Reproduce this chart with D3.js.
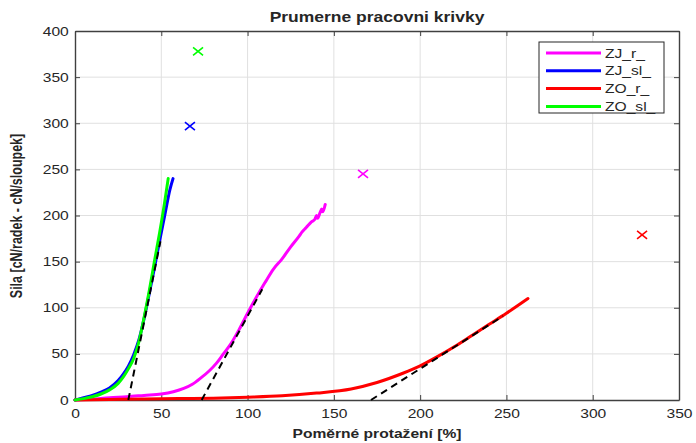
<!DOCTYPE html>
<html>
<head>
  <meta charset="utf-8">
  <title>Prumerne pracovni krivky</title>
  <script src="https://cdn.jsdelivr.net/npm/d3@7"></script>
  <style>
    body { margin: 0; background: #fff; }
    text { font-family: "Liberation Sans", Arial, Helvetica, sans-serif; fill: #262626; }
  </style>
</head>
<body>
<script>
// --- data ---
var xTicks = [0, 50, 100, 150, 200, 250, 300, 350];
var yTicks = [0, 50, 100, 150, 200, 250, 300, 350, 400];

var seriesNames = ["ZJ_r_", "ZJ_sl_", "ZO_r_", "ZO_sl_"];
var seriesColors = ["#ff00ff", "#0000ff", "#ff0000", "#00ff00"];

var zjR_x = [0, 10, 20, 30, 40, 50, 57, 63, 68, 73, 78, 82, 86, 90, 95, 100, 105, 110, 115, 120, 125, 130, 131.5, 134, 137, 139, 140, 140.6, 142, 143, 143.6, 145];
var zjR_y = [0, 1, 2.5, 3.5, 5, 6.5, 9, 12.5, 17, 24, 32, 40, 50, 60, 76, 94, 111, 127, 142, 153, 166, 178, 182, 187, 193, 196, 200, 197, 203, 207, 204, 212];

var zjSl_x = [0, 5, 10, 15, 20, 25, 28, 31, 34, 37, 40, 43, 46, 49, 52, 55, 56.8];
var zjSl_y = [0, 2.5, 5, 8.5, 13, 21, 28, 37, 49, 65, 88, 115, 143, 172, 200, 228, 240];

var zoR_x = [0, 20, 40, 60, 80, 100, 120, 140, 160, 175, 190, 200, 210, 220, 230, 240, 250, 262.5];
var zoR_y = [0, 0.5, 1, 1.5, 2, 3, 4.5, 7.5, 12, 19, 29, 37, 47, 58, 70, 82, 94, 110];

var zoSl_x = [0, 5, 10, 15, 20, 25, 28, 31, 34, 37, 40, 43, 46, 49, 52, 54];
var zoSl_y = [0, 1.5, 3.5, 6.5, 11, 18, 25, 34, 45, 63, 89, 118, 150, 181, 215, 240];

// tangent lines (dashed): start and end points
var tangent_x = [[30.9, 49.5], [73.4, 108.5], [171.5, 248]];
var tangent_y = [[0, 172], [0, 120], [0, 91]];

// end markers (x)
var marker_x = [166.9, 66.6, 328.6, 71.3];
var marker_y = [245, 297, 179, 378];

// --- layout ---
var width = 696, height = 443;
var plotLeft = 75, plotRight = 679, plotTop = 31, plotBottom = 400;
var stretch = 1.25; // picture is stretched horizontally

var x = d3.scaleLinear().domain([0, 350]).range([plotLeft, plotRight]);
var y = d3.scaleLinear().domain([0, 400]).range([plotBottom, plotTop]);

var svg = d3.select("body").append("svg")
  .attr("width", width)
  .attr("height", height);

svg.append("rect").attr("width", width).attr("height", height).attr("fill", "#fff");

// grid
svg.append("g").selectAll("line").data(xTicks.slice(1, -1)).enter().append("line")
  .attr("x1", d => x(d)).attr("x2", d => x(d))
  .attr("y1", plotTop).attr("y2", plotBottom)
  .attr("stroke", "#e0e0e0").attr("stroke-width", 1);
svg.append("g").selectAll("line").data(yTicks.slice(1, -1)).enter().append("line")
  .attr("y1", d => y(d)).attr("y2", d => y(d))
  .attr("x1", plotLeft).attr("x2", plotRight)
  .attr("stroke", "#e0e0e0").attr("stroke-width", 1);

// axes (ticks inside, like matlab)
function styleAxis(g) {
  g.select(".domain").attr("stroke", "#404040").attr("stroke-width", 1.4);
  g.selectAll(".tick line").attr("stroke", "#404040").attr("stroke-width", 1);
}

var xAxis = svg.append("g")
  .attr("transform", "translate(0," + plotBottom + ")")
  .call(d3.axisBottom(x).tickValues(xTicks).tickSizeInner(-5).tickSizeOuter(0));
styleAxis(xAxis);
xAxis.selectAll("text")
  .style("font-size", "12.5px").attr("fill", "#262626")
  .attr("y", 9).attr("dy", "0.71em")
  .attr("transform", "scale(" + stretch + ",1)");

var yAxis = svg.append("g")
  .attr("transform", "translate(" + plotLeft + ",0)")
  .call(d3.axisLeft(y).tickValues(yTicks).tickSizeInner(-5).tickSizeOuter(0));
styleAxis(yAxis);
yAxis.selectAll("text")
  .style("font-size", "12.5px").attr("fill", "#262626")
  .attr("x", -5)
  .attr("transform", "scale(" + stretch + ",1)");

// top and right box with inward ticks
var xTop = svg.append("g")
  .attr("transform", "translate(0," + plotTop + ")")
  .call(d3.axisTop(x).tickValues(xTicks).tickSizeInner(-5).tickSizeOuter(0).tickFormat(""));
styleAxis(xTop);
var yRight = svg.append("g")
  .attr("transform", "translate(" + plotRight + ",0)")
  .call(d3.axisRight(y).tickValues(yTicks).tickSizeInner(-5).tickSizeOuter(0).tickFormat(""));
styleAxis(yRight);

// curves
var smooth = d3.line()
  .x(d => x(d[0]))
  .y(d => y(d[1]))
  .curve(d3.curveMonotoneX);

var seriesX = [zjR_x, zjSl_x, zoR_x, zoSl_x];
var seriesY = [zjR_y, zjSl_y, zoR_y, zoSl_y];

seriesX.forEach(function(xs, i) {
  var pts = xs.map((v, k) => [v, seriesY[i][k]]);
  svg.append("path")
    .datum(pts)
    .attr("d", smooth)
    .attr("fill", "none")
    .attr("stroke", seriesColors[i])
    .attr("stroke-width", 3)
    .attr("stroke-linejoin", "round")
    .attr("stroke-linecap", "round");
});

// tangents
tangent_x.forEach(function(xs, i) {
  svg.append("line")
    .attr("x1", x(xs[0])).attr("y1", y(tangent_y[i][0]))
    .attr("x2", x(xs[1])).attr("y2", y(tangent_y[i][1]))
    .attr("stroke", "#000")
    .attr("stroke-width", 2)
    .attr("stroke-dasharray", "7,5");
});

// markers
var ms = 5;
marker_x.forEach(function(mx, i) {
  var cx = x(mx), cy = y(marker_y[i]);
  svg.append("path")
    .attr("d", "M" + (cx - ms) + "," + (cy - ms * 0.8) + "L" + (cx + ms) + "," + (cy + ms * 0.8) +
               "M" + (cx - ms) + "," + (cy + ms * 0.8) + "L" + (cx + ms) + "," + (cy - ms * 0.8))
    .attr("stroke", seriesColors[i])
    .attr("stroke-width", 1.6)
    .attr("fill", "none");
});

// title and labels
svg.append("text")
  .attr("transform", "translate(" + ((plotLeft + plotRight) / 2) + ",22) scale(" + stretch + ",1)")
  .attr("text-anchor", "middle")
  .style("font-size", "14px").style("font-weight", "bold")
  .attr("fill", "#000")
  .text("Prumerne pracovni krivky");

svg.append("text")
  .attr("transform", "translate(" + ((plotLeft + plotRight) / 2) + ",438) scale(" + stretch + ",1)")
  .attr("text-anchor", "middle")
  .style("font-size", "12.5px").style("font-weight", "bold")
  .text("Poměrné protažení [%]");

svg.append("text")
  .attr("transform", "translate(22,216) scale(" + stretch + ",1) rotate(-90)")
  .attr("text-anchor", "middle")
  .style("font-size", "12.5px").style("font-weight", "bold")
  .text("Sila [cN/radek - cN/sloupek]");

// legend
var legend = svg.append("g");
legend.append("rect")
  .attr("x", 539).attr("y", 42).attr("width", 125).attr("height", 71)
  .attr("fill", "#fff").attr("stroke", "#262626").attr("stroke-width", 1);
seriesNames.forEach(function(name, i) {
  var ly = 53 + i * 17.8;
  legend.append("line")
    .attr("x1", 546).attr("x2", 601).attr("y1", ly).attr("y2", ly)
    .attr("stroke", seriesColors[i]).attr("stroke-width", 3);
  legend.append("text")
    .attr("transform", "translate(605," + (ly + 4.5) + ") scale(" + stretch + ",1)")
    .style("font-size", "12.5px")
    .attr("fill", "#000")
    .text(name);
});
</script>
</body>
</html>
